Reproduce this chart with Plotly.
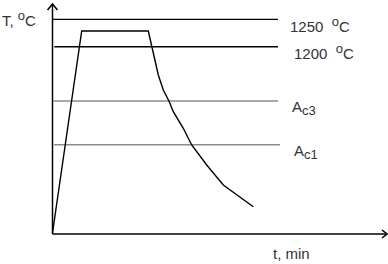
import plotly.graph_objects as go

# Schematic heat-treatment cycle (time in schematic minutes, temperature in schematic units)
cycle_time = [0, 29.2, 95.8, 99.2, 101.5, 105.8, 110.8, 116.8, 120.8, 130.8, 139.2, 154.2, 170.8, 187.5, 200.8]
cycle_temp = [1, 203, 203, 187.3, 179, 159, 144, 132.3, 122.3, 105.7, 89, 69, 49, 37.3, 27.3]

# Reference levels
level_names = ["1250", "1200", "Ac3", "Ac1"]
level_values = [214.6, 187.3, 133, 89.3]
level_start = [0, 1.8, 0.8, 1.5]
level_end = [225.5, 225.5, 225.5, 227.5]

SS = "<span style='font-size:13px'>{}</span>"
level_labels = ["1250\u00a0\u00a0<sup>" + SS.format("o") + "</sup>C",
                "1200\u00a0\u00a0<sup>" + SS.format("o") + "</sup>C",
                "A<sub>" + SS.format("c3") + "</sub>",
                "A<sub>" + SS.format("c1") + "</sub>"]
level_colors = ["#000000", "#000000", "#8c8c8c", "#8c8c8c"]

t_max = 334.5
T_max = 230

FONT = dict(family="Liberation Sans, Arial, sans-serif", size=15, color="#333333")

fig = go.Figure()

# level lines
for name, v, x0, x1, col in zip(level_names, level_values, level_start, level_end, level_colors):
    fig.add_trace(go.Scatter(x=[x0, x1], y=[v, v], mode="lines",
                             line=dict(color=col, width=1.4), hoverinfo="skip"))

# heating / cooling curve
fig.add_trace(go.Scatter(x=cycle_time, y=cycle_temp, mode="lines",
                         line=dict(color="#000000", width=1.4), hoverinfo="skip"))

# axes with open arrowheads
fig.add_trace(go.Scatter(x=[0, 0, None, -5, 0, 5], y=[0, T_max, None, T_max - 6, T_max, T_max - 6],
                         mode="lines", line=dict(color="#000000", width=1.5), hoverinfo="skip"))
fig.add_trace(go.Scatter(x=[0, t_max, None, t_max - 5, t_max, t_max - 5], y=[0, 0, None, 4, 0, -4],
                         mode="lines", line=dict(color="#000000", width=1.5), hoverinfo="skip"))

# level labels
label_dx = [235.5, 239.5, 237.5, 239.5]
label_dy = [-5, -5, -7, -7]
for lab, v, dx, dy in zip(level_labels, level_values, label_dx, label_dy):
    fig.add_annotation(x=dx, y=v + dy, text=lab, showarrow=False, xanchor="left",
                       yanchor="middle", font=FONT)

fig.add_annotation(x=-52.5, y=216, text="T,\u00a0<sup>" + SS.format("o") + "</sup>C", showarrow=False,
                   xanchor="left", yanchor="middle", font=FONT)
fig.add_annotation(x=218.5, y=-19, text="t, min", showarrow=False,
                   xanchor="left", yanchor="middle", font=FONT)

fig.update_layout(
    width=388, height=264,
    margin=dict(l=0, r=0, t=0, b=0),
    paper_bgcolor="white", plot_bgcolor="white",
    showlegend=False,
    xaxis=dict(range=[-52.5, 335.5], visible=False, fixedrange=True),
    yaxis=dict(range=[-30, 234], visible=False, fixedrange=True),
)

fig.write_html("out.html", config={"displayModeBar": False})
